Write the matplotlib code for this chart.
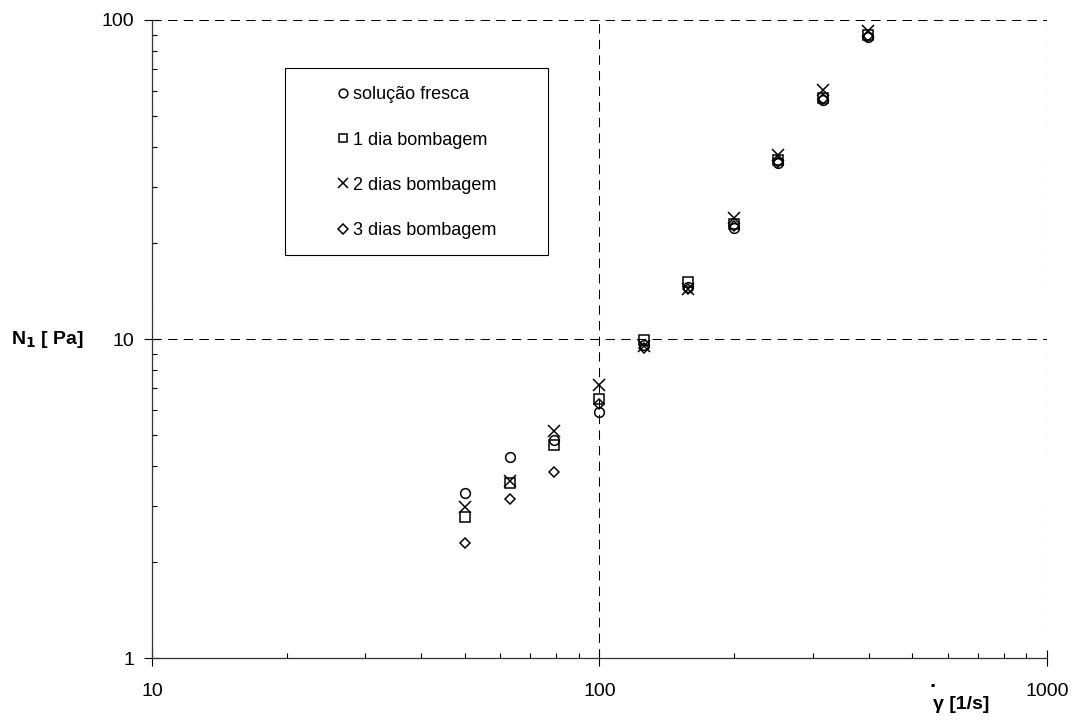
import matplotlib
matplotlib.use("Agg")
from matplotlib import pyplot as plt
from matplotlib.patches import Rectangle
from matplotlib.ticker import LogLocator, NullFormatter, FixedFormatter, FixedLocator

plt.rcParams['font.family'] = ['Liberation Sans', 'DejaVu Sans']

# shear rate [1/s]
gamma = [50, 63, 79, 100, 126, 158, 200, 251, 316, 398]

# N1 [Pa]
fresca = [3.29, 4.27, 4.82, 5.90, 9.6, 14.6, 22.3, 35.6, 56.1, 88.5]
dia1 = [2.77, 3.54, 4.65, 6.48, 9.9, 15.1, 23.0, 36.4, 57.0, 89.8]
dias2 = [2.97, 3.59, 5.15, 7.18, 9.5, 14.3, 23.9, 37.7, 60.3, 92.4]
dias3 = [2.29, 3.15, 3.83, 6.25, 9.37, 14.3, 22.6, 35.8, 56.6, 89.0]

labels = ['solução fresca', '1 dia bombagem', '2 dias bombagem', '3 dias bombagem']
markers = ['o', 's', 'x', 'D']
series = [fresca, dia1, dias2, dias3]

fig = plt.figure(figsize=(10.77, 7.22), dpi=100)
ax = fig.add_axes([0.1411, 0.0886, 0.8310, 0.8837])

msizes = [7, 7, 8.5, 5.5]
for y, m, lab, ms in zip(series, markers, labels, msizes):
    ax.plot(gamma, y, linestyle='none', marker=m, markersize=ms,
            markerfacecolor='none', markeredgecolor='black',
            markeredgewidth=1.1, label=lab)

ax.set_xscale('log')
ax.set_yscale('log')
ax.set_xlim(10, 1000)
ax.set_ylim(1, 100)

ax.xaxis.set_major_locator(FixedLocator([10, 100, 1000]))
ax.xaxis.set_major_formatter(FixedFormatter(['10', '100', '1000']))
ax.yaxis.set_major_locator(FixedLocator([1, 10, 100]))
ax.yaxis.set_major_formatter(FixedFormatter(['1', '10', '100']))
ax.xaxis.set_minor_locator(LogLocator(base=10, subs=range(2, 10)))
ax.yaxis.set_minor_locator(LogLocator(base=10, subs=range(2, 10)))
ax.xaxis.set_minor_formatter(NullFormatter())
ax.yaxis.set_minor_formatter(NullFormatter())

ax.tick_params(which='major', direction='inout', length=12, width=0.8,
               labelsize=14, color='black')
ax.tick_params(which='minor', direction='in', length=3.6, width=0.8, color='black')
ax.tick_params(axis='x', which='major', pad=12)
ax.tick_params(axis='y', which='major', pad=7)

for s in ['top', 'right']:
    ax.spines[s].set_visible(False)
for s in ['left', 'bottom']:
    ax.spines[s].set_linewidth(0.9)
    ax.spines[s].set_color('#333333')

ax.grid(True, which='major', color='black', linewidth=0.75, linestyle=(0, (9, 6)))
ax.set_axisbelow(True)

# legend box
ax.add_patch(Rectangle((0.1486, 0.9248 - 0.293), 0.294, 0.293, transform=ax.transAxes,
                       facecolor='white', edgecolor='black', linewidth=0.8, zorder=3))
leg = ax.legend(loc='upper left', bbox_to_anchor=(0.205, 0.896), frameon=False,
                fontsize=13, labelspacing=1.56, handlelength=0.83, handletextpad=0.15,
                borderpad=0, borderaxespad=0, markerscale=0.9)
leg.set_zorder(4)

fig.text(0.010, 0.5291, r'N$_\mathbf{1}$ [ Pa]', fontsize=14, fontweight='bold',
         ha='left', va='center')
fig.text(0.8925, 0.024, 'γ [1/s]', fontsize=14, fontweight='bold', ha='center', va='center')
fig.text(0.8655, 0.056, '.', fontsize=16, fontweight='bold', ha='center', va='center')

fig.savefig('out.png', dpi=100)
